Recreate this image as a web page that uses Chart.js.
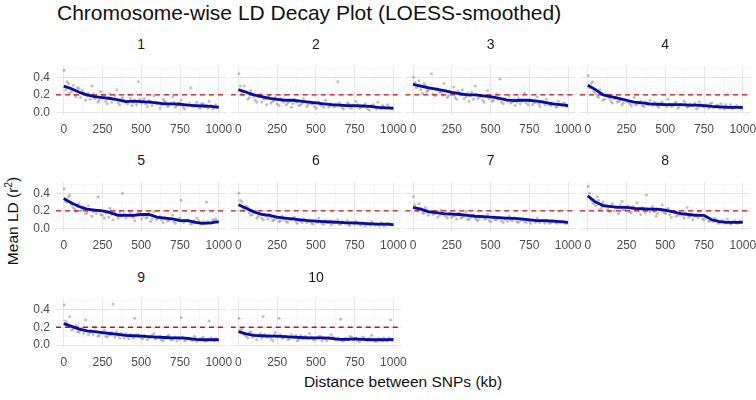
<!DOCTYPE html>
<html><head><meta charset="utf-8">
<script src="https://cdn.jsdelivr.net/npm/chart.js@4"></script>
<style>
html,body{margin:0;padding:0;background:#fff}
body{width:756px;height:400px;overflow:hidden;position:relative;font-family:"Liberation Sans",Arial,sans-serif}
canvas{position:absolute}
.t{position:absolute;white-space:nowrap;line-height:1}
</style></head><body>
<div class="t" style="left:57px;top:2px;font-size:21px;color:#111">Chromosome-wise LD Decay Plot (LOESS-smoothed)</div>
<div class="t" style="left:403px;top:374px;font-size:15.5px;color:#111;transform:translateX(-50%)">Distance between SNPs (kb)</div>
<div class="t" style="left:12px;top:221px;font-size:15.5px;color:#111;transform:translate(-50%,-50%) rotate(-90deg)">Mean LD (r<sup style="font-size:10px">2</sup>)</div>
<script>
const CHROMOSOMES = ['1','2','3','4','5','6','7','8','9','10'];
const X_TICKS = [0,125,250,375,500,625,750,875,1000];
const X_LABELED = [0,250,500,750,1000];
const Y_TICKS = [0,0.1,0.2,0.3,0.4,0.5];
const Y_LABELED = [0,0.2,0.4];
const X_RANGE = [-50,1050];
const Y_RANGE = [-0.025,0.525];
const LD_THRESHOLD = 0.2;

const LOESS_KB = [0,50,100,150,200,250,300,350,400,450,500,550,600,650,700,750,800,850,900,950,1000];
const LOESS_CHR1 = [0.30,0.27,0.23,0.20,0.18,0.17,0.16,0.145,0.125,0.13,0.125,0.12,0.11,0.10,0.10,0.095,0.085,0.08,0.075,0.07,0.06];
const LOESS_CHR2 = [0.26,0.23,0.20,0.18,0.16,0.15,0.14,0.14,0.13,0.12,0.11,0.10,0.09,0.085,0.08,0.08,0.075,0.07,0.06,0.055,0.05];
const LOESS_CHR3 = [0.32,0.30,0.28,0.265,0.25,0.23,0.215,0.20,0.20,0.19,0.18,0.165,0.145,0.135,0.14,0.14,0.13,0.115,0.10,0.09,0.08];
const LOESS_CHR4 = [0.31,0.26,0.20,0.18,0.16,0.14,0.12,0.11,0.10,0.095,0.09,0.09,0.09,0.085,0.085,0.08,0.07,0.065,0.06,0.06,0.06];
const LOESS_CHR5 = [0.34,0.29,0.25,0.22,0.21,0.20,0.18,0.15,0.15,0.15,0.16,0.16,0.13,0.12,0.11,0.09,0.09,0.07,0.06,0.065,0.08];
const LOESS_CHR6 = [0.27,0.23,0.19,0.16,0.15,0.13,0.12,0.11,0.10,0.09,0.085,0.08,0.075,0.07,0.065,0.065,0.06,0.055,0.05,0.05,0.045];
const LOESS_CHR7 = [0.24,0.22,0.19,0.18,0.17,0.165,0.16,0.15,0.14,0.135,0.13,0.125,0.12,0.115,0.11,0.10,0.09,0.09,0.085,0.08,0.07];
const LOESS_CHR8 = [0.37,0.30,0.26,0.25,0.24,0.24,0.23,0.225,0.22,0.22,0.21,0.19,0.17,0.16,0.15,0.15,0.10,0.08,0.07,0.07,0.07];
const LOESS_CHR9 = [0.24,0.21,0.18,0.16,0.15,0.14,0.13,0.12,0.11,0.105,0.10,0.095,0.09,0.085,0.08,0.08,0.075,0.065,0.06,0.06,0.06];
const LOESS_CHR10 = [0.15,0.125,0.11,0.105,0.10,0.10,0.095,0.09,0.085,0.08,0.08,0.08,0.075,0.065,0.065,0.07,0.065,0.06,0.06,0.06,0.065];

const SCATTER_KB_A = [3,22,38,61,79,98,118,141,159,182,199,221,238,262,281,299,318,342,361,379,402,419,441,458,481,502,518,539,561,582,598,621,641,659,678,702,719,742,758,781,801,818,842,859,881,899,921,938,962,981];
const SCATTER_A_CHR1 = [0.48,0.35,0.22,0.31,0.18,0.27,0.25,0.14,0.22,0.30,0.16,0.12,0.24,0.19,0.10,0.21,0.15,0.26,0.09,0.17,0.13,0.20,0.08,0.14,0.35,0.11,0.16,0.07,0.13,0.19,0.10,0.05,0.15,0.12,0.08,0.18,0.06,0.11,0.14,0.04,0.09,0.28,0.07,0.12,0.05,0.10,0.08,0.13,0.04,0.09];
const SCATTER_A_CHR2 = [0.44,0.22,0.30,0.15,0.25,0.18,0.12,0.21,0.16,0.09,0.19,0.13,0.17,0.08,0.14,0.20,0.11,0.06,0.15,0.12,0.09,0.16,0.07,0.13,0.10,0.05,0.12,0.08,0.14,0.06,0.10,0.07,0.35,0.09,0.04,0.11,0.06,0.08,0.13,0.05,0.07,0.10,0.03,0.08,0.06,0.12,0.04,0.07,0.09,0.05];
const SCATTER_A_CHR3 = [0.40,0.28,0.36,0.22,0.31,0.25,0.44,0.19,0.27,0.23,0.33,0.17,0.24,0.29,0.15,0.21,0.26,0.18,0.13,0.23,0.30,0.16,0.20,0.12,0.25,0.17,0.14,0.21,0.38,0.10,0.15,0.19,0.12,0.08,0.16,0.13,0.22,0.09,0.14,0.11,0.18,0.07,0.12,0.15,0.09,0.11,0.06,0.13,0.08,0.10];
const SCATTER_A_CHR4 = [0.42,0.33,0.24,0.19,0.26,0.14,0.20,0.16,0.11,0.18,0.13,0.09,0.15,0.12,0.08,0.17,0.10,0.13,0.07,0.11,0.14,0.08,0.10,0.06,0.12,0.09,0.15,0.07,0.11,0.05,0.09,0.13,0.06,0.10,0.08,0.04,0.12,0.07,0.09,0.05,0.11,0.06,0.08,0.10,0.04,0.07,0.09,0.05,0.08,0.06];
const SCATTER_A_CHR5 = [0.45,0.30,0.38,0.24,0.19,0.28,0.22,0.17,0.26,0.14,0.21,0.36,0.16,0.12,0.19,0.23,0.10,0.15,0.18,0.40,0.12,0.20,0.14,0.09,0.17,0.11,0.16,0.13,0.08,0.19,0.10,0.14,0.07,0.12,0.09,0.15,0.06,0.11,0.32,0.08,0.10,0.05,0.09,0.12,0.06,0.08,0.30,0.07,0.10,0.11];
const SCATTER_A_CHR6 = [0.40,0.30,0.20,0.24,0.15,0.19,0.12,0.17,0.10,0.14,0.16,0.09,0.12,0.08,0.14,0.11,0.07,0.10,0.13,0.06,0.09,0.11,0.07,0.10,0.05,0.08,0.12,0.06,0.09,0.07,0.04,0.08,0.10,0.05,0.07,0.09,0.04,0.06,0.08,0.05,0.07,0.03,0.06,0.08,0.04,0.05,0.07,0.03,0.06,0.05];
const SCATTER_A_CHR7 = [0.36,0.22,0.28,0.18,0.24,0.15,0.20,0.17,0.13,0.21,0.16,0.12,0.18,0.14,0.11,0.17,0.13,0.19,0.10,0.15,0.12,0.09,0.14,0.11,0.16,0.08,0.12,0.10,0.13,0.07,0.11,0.14,0.09,0.12,0.07,0.10,0.08,0.11,0.06,0.09,0.12,0.07,0.08,0.10,0.06,0.09,0.07,0.20,0.08,0.06];
const SCATTER_A_CHR8 = [0.48,0.33,0.28,0.36,0.22,0.30,0.25,0.19,0.28,0.23,0.17,0.31,0.21,0.26,0.18,0.24,0.29,0.16,0.22,0.38,0.19,0.25,0.14,0.21,0.27,0.17,0.23,0.13,0.20,0.15,0.18,0.12,0.24,0.14,0.10,0.16,0.19,0.11,0.13,0.08,0.10,0.12,0.06,0.09,0.07,0.11,0.05,0.08,0.06,0.09];
const SCATTER_A_CHR9 = [0.45,0.25,0.32,0.18,0.22,0.14,0.19,0.28,0.12,0.16,0.20,0.10,0.14,0.17,0.09,0.12,0.46,0.15,0.08,0.11,0.13,0.07,0.10,0.30,0.12,0.08,0.11,0.06,0.09,0.13,0.07,0.10,0.05,0.08,0.11,0.06,0.09,0.07,0.31,0.05,0.08,0.06,0.10,0.04,0.07,0.09,0.05,0.27,0.06,0.07];
const SCATTER_A_CHR10 = [0.30,0.18,0.12,0.08,0.15,0.10,0.06,0.13,0.32,0.09,0.11,0.05,0.14,0.30,0.08,0.10,0.06,0.12,0.09,0.05,0.11,0.07,0.09,0.13,0.06,0.08,0.10,0.05,0.07,0.09,0.12,0.06,0.08,0.29,0.05,0.07,0.10,0.06,0.08,0.04,0.09,0.06,0.07,0.11,0.05,0.07,0.06,0.08,0.05,0.28];

const SCATTER_KB_B = [12,31,50,70,89,108,129,150,170,190,210,229,249,271,290,309,330,351,370,390,411,430,449,470,491,511,529,550,570,590,610,630,650,669,690,711,730,750,770,790,811,830,851,870,890,910,930,950,971,992];
const SCATTER_B_CHR1 = [0.26,0.33,0.24,0.20,0.28,0.17,0.22,0.19,0.15,0.21,0.18,0.14,0.20,0.13,0.17,0.12,0.19,0.11,0.15,0.14,0.10,0.16,0.12,0.09,0.15,0.13,0.10,0.14,0.08,0.12,0.11,0.09,0.13,0.07,0.10,0.12,0.08,0.10,0.06,0.09,0.11,0.07,0.09,0.06,0.10,0.07,0.05,0.08,0.06,0.07];
const SCATTER_B_CHR2 = [0.30,0.20,0.24,0.17,0.21,0.14,0.18,0.12,0.15,0.17,0.11,0.14,0.10,0.16,0.12,0.09,0.13,0.10,0.12,0.08,0.11,0.13,0.09,0.10,0.07,0.12,0.09,0.06,0.10,0.08,0.07,0.09,0.11,0.06,0.08,0.10,0.05,0.07,0.09,0.06,0.08,0.05,0.07,0.09,0.04,0.06,0.08,0.05,0.06,0.04];
const SCATTER_B_CHR3 = [0.34,0.30,0.26,0.33,0.24,0.28,0.21,0.26,0.23,0.20,0.25,0.19,0.22,0.17,0.24,0.20,0.16,0.22,0.19,0.15,0.21,0.18,0.14,0.19,0.16,0.13,0.18,0.15,0.12,0.16,0.13,0.11,0.15,0.12,0.10,0.14,0.11,0.13,0.09,0.12,0.10,0.13,0.09,0.11,0.08,0.10,0.07,0.09,0.11,0.07];
const SCATTER_B_CHR4 = [0.28,0.35,0.22,0.17,0.21,0.15,0.18,0.13,0.16,0.12,0.14,0.11,0.13,0.10,0.12,0.09,0.11,0.08,0.12,0.09,0.10,0.12,0.08,0.11,0.09,0.07,0.10,0.08,0.12,0.07,0.09,0.10,0.07,0.08,0.11,0.06,0.09,0.07,0.08,0.10,0.06,0.08,0.05,0.07,0.09,0.06,0.05,0.07,0.06,0.05];
const SCATTER_B_CHR5 = [0.31,0.36,0.27,0.22,0.25,0.20,0.23,0.18,0.21,0.19,0.17,0.20,0.15,0.18,0.13,0.16,0.19,0.12,0.14,0.17,0.15,0.18,0.13,0.16,0.19,0.14,0.12,0.17,0.11,0.14,0.12,0.10,0.13,0.09,0.11,0.08,0.10,0.12,0.07,0.09,0.08,0.06,0.07,0.09,0.05,0.07,0.08,0.06,0.09,0.07];
const SCATTER_B_CHR6 = [0.32,0.22,0.26,0.18,0.16,0.20,0.14,0.12,0.15,0.11,0.13,0.10,0.12,0.09,0.11,0.08,0.10,0.12,0.08,0.09,0.07,0.10,0.08,0.06,0.09,0.07,0.08,0.05,0.07,0.09,0.06,0.07,0.05,0.08,0.06,0.04,0.07,0.05,0.06,0.04,0.06,0.05,0.04,0.06,0.05,0.03,0.05,0.04,0.06,0.04];
const SCATTER_B_CHR7 = [0.27,0.20,0.23,0.17,0.21,0.19,0.16,0.18,0.15,0.17,0.14,0.16,0.13,0.15,0.17,0.12,0.14,0.11,0.13,0.15,0.10,0.12,0.14,0.11,0.09,0.13,0.10,0.12,0.09,0.11,0.08,0.10,0.12,0.08,0.09,0.11,0.07,0.09,0.10,0.07,0.08,0.09,0.06,0.08,0.07,0.09,0.06,0.07,0.08,0.06];
const SCATTER_B_CHR8 = [0.40,0.30,0.26,0.32,0.24,0.27,0.22,0.26,0.20,0.24,0.27,0.21,0.23,0.19,0.25,0.22,0.20,0.24,0.18,0.21,0.23,0.19,0.17,0.22,0.18,0.20,0.16,0.19,0.14,0.17,0.15,0.18,0.13,0.16,0.14,0.12,0.15,0.10,0.13,0.09,0.08,0.10,0.07,0.09,0.06,0.08,0.07,0.09,0.06,0.08];
const SCATTER_B_CHR9 = [0.27,0.21,0.17,0.20,0.15,0.17,0.13,0.16,0.14,0.12,0.15,0.11,0.13,0.10,0.12,0.14,0.09,0.11,0.13,0.08,0.10,0.12,0.08,0.11,0.09,0.07,0.10,0.08,0.11,0.07,0.09,0.06,0.08,0.10,0.06,0.08,0.05,0.07,0.09,0.06,0.07,0.05,0.08,0.06,0.07,0.05,0.06,0.08,0.05,0.06];
const SCATTER_B_CHR10 = [0.17,0.13,0.10,0.14,0.09,0.12,0.11,0.08,0.12,0.10,0.07,0.11,0.09,0.12,0.08,0.10,0.07,0.09,0.11,0.06,0.08,0.10,0.07,0.09,0.06,0.08,0.10,0.07,0.05,0.08,0.09,0.06,0.07,0.05,0.08,0.06,0.09,0.07,0.05,0.06,0.08,0.05,0.07,0.06,0.04,0.07,0.05,0.06,0.08,0.05];

const LOESS = [LOESS_CHR1,LOESS_CHR2,LOESS_CHR3,LOESS_CHR4,LOESS_CHR5,LOESS_CHR6,LOESS_CHR7,LOESS_CHR8,LOESS_CHR9,LOESS_CHR10];
const SCATTER_A = [SCATTER_A_CHR1,SCATTER_A_CHR2,SCATTER_A_CHR3,SCATTER_A_CHR4,SCATTER_A_CHR5,SCATTER_A_CHR6,SCATTER_A_CHR7,SCATTER_A_CHR8,SCATTER_A_CHR9,SCATTER_A_CHR10];
const SCATTER_B = [SCATTER_B_CHR1,SCATTER_B_CHR2,SCATTER_B_CHR3,SCATTER_B_CHR4,SCATTER_B_CHR5,SCATTER_B_CHR6,SCATTER_B_CHR7,SCATTER_B_CHR8,SCATTER_B_CHR9,SCATTER_B_CHR10];

// layout (pixels)
const COL_LEFT = [56, 230.7, 405.3, 580];
const PANEL_W = 170.5;
const ROW_ZERO = [112.5, 228.5, 345];
const PX_PER_UNIT = 94;
const AXIS_W = 44, AXIS_H = 28, PAD_TOP = 10, PAD_RIGHT = 18;

const near = (v, arr) => arr.some(a => Math.abs(a - v) < 1e-6);
const TICK_COLOR = '#4d4d4d';
const FONT = "'Liberation Sans', Arial, sans-serif";
const POINT_STYLE = {pointRadius: 1.5, pointBorderWidth: 0, backgroundColor: 'rgba(140,140,140,0.55)', borderColor: 'rgba(0,0,0,0)'};

CHROMOSOMES.forEach((name, i) => {
  const col = i % 4, row = Math.floor(i / 4);
  const top = ROW_ZERO[row] - Y_RANGE[1] * PX_PER_UNIT;
  const panelH = (Y_RANGE[1] - Y_RANGE[0]) * PX_PER_UNIT;
  const cLeft = Math.floor(COL_LEFT[col] - AXIS_W);
  const cTop = Math.floor(top - PAD_TOP);
  const yAxisW = COL_LEFT[col] - cLeft;
  const padTop = top - cTop;
  const w = Math.ceil(yAxisW + PANEL_W + PAD_RIGHT);
  const h = Math.ceil(padTop + panelH + AXIS_H);
  const padRight = w - yAxisW - PANEL_W;
  const cv = document.createElement('canvas');
  cv.width = w; cv.height = h;
  cv.style.left = cLeft + 'px'; cv.style.top = cTop + 'px';
  cv.style.width = w + 'px'; cv.style.height = h + 'px';
  document.body.appendChild(cv);
  const axisH = h - padTop - panelH;

  const lab = document.createElement('div');
  lab.className = 't';
  lab.textContent = name;
  lab.style.cssText = `left:${COL_LEFT[col] + PANEL_W / 2}px;top:${top - 19}px;font-size:14px;color:#1a1a1a;transform:translate(-50%,-50%)`;
  document.body.appendChild(lab);

  new Chart(cv, {
    type: 'scatter',
    data: {
      datasets: [
        {
          label: 'LOESS',
          data: LOESS_KB.map((x, k) => ({x, y: LOESS[i][k]})),
          showLine: true, borderColor: '#0a0aa8', borderWidth: 2.8,
          pointRadius: 0, tension: 0, fill: false
        },
        {
          label: 'threshold',
          data: X_RANGE.map(x => ({x, y: LD_THRESHOLD})),
          showLine: true, borderColor: '#cc1111', borderWidth: 1.3,
          borderDash: [5, 4], pointRadius: 0, fill: false
        },
        Object.assign({label: 'pairs A', data: SCATTER_KB_A.map((x, k) => ({x, y: SCATTER_A[i][k]}))}, POINT_STYLE),
        Object.assign({label: 'pairs B', data: SCATTER_KB_B.map((x, k) => ({x, y: SCATTER_B[i][k]}))}, POINT_STYLE)
      ]
    },
    options: {
      responsive: false, animation: false, devicePixelRatio: 1,
      layout: {padding: {left: 0, top: padTop, right: padRight, bottom: 0}},
      plugins: {legend: {display: false}, tooltip: {enabled: false}, title: {display: false}},
      scales: {
        x: {
          type: 'linear', min: X_RANGE[0], max: X_RANGE[1],
          afterBuildTicks: s => { s.ticks = X_TICKS.map(v => ({value: v})); },
          afterFit: s => { s.height = axisH; },
          border: {display: false},
          grid: {
            drawTicks: false,
            color: c => near(c.tick.value, X_LABELED) ? '#e6e6e6' : '#f2f2f2',
            lineWidth: c => near(c.tick.value, X_LABELED) ? 1 : 0.6
          },
          ticks: {
            autoSkip: false, maxRotation: 0, padding: 8, color: TICK_COLOR,
            font: {family: FONT, size: 12},
            callback: v => near(v, X_LABELED) ? String(v) : ''
          }
        },
        y: {
          type: 'linear', min: Y_RANGE[0], max: Y_RANGE[1],
          afterBuildTicks: s => { s.ticks = Y_TICKS.map(v => ({value: v})); },
          afterFit: s => { s.width = yAxisW; },
          border: {display: false},
          grid: {
            drawTicks: false,
            color: c => near(c.tick.value, Y_LABELED) ? '#e6e6e6' : '#f2f2f2',
            lineWidth: c => near(c.tick.value, Y_LABELED) ? 1 : 0.6
          },
          ticks: {
            autoSkip: false, padding: 6, color: TICK_COLOR,
            font: {family: FONT, size: 12},
            callback: v => (col === 0 && near(v, Y_LABELED)) ? v.toFixed(1) : ''
          }
        }
      }
    }
  });
});
</script>
</body></html>
